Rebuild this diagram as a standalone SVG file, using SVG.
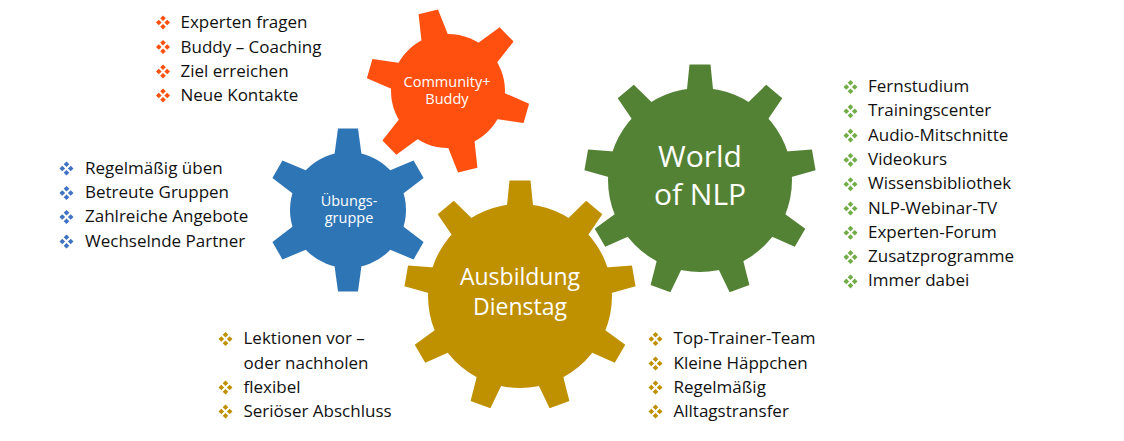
<svg xmlns="http://www.w3.org/2000/svg" width="1124" height="441" viewBox="0 0 1124 441">
<style>
.lbl{font-family:"Open Sans","Liberation Sans",sans-serif;fill:#ffffff;text-anchor:middle}
.li{font-family:"Open Sans","Liberation Sans",sans-serif;font-size:17px;fill:#111111}
</style>
<defs>
<path id="toothL" d="M-13.5,-86 L13.5,-86 L10.5,-115.5 L-10.5,-115.5 Z"/>
<path id="toothS" d="M-14,-52 L14,-52 L10,-81.5 L-10,-81.5 Z"/>
<g id="bul">
<path d="M0,-7 L2.8,-4.2 L0,-1.4 L-2.8,-4.2 Z M0,1.4 L2.8,4.2 L0,7 L-2.8,4.2 Z M-7,0 L-4.2,-2.8 L-1.4,0 L-4.2,2.8 Z M1.4,0 L4.2,-2.8 L7,0 L4.2,2.8 Z"/>
</g>
</defs>
<rect width="1124" height="441" fill="#ffffff"/>

<g id="gear-uebungsgruppe" transform="translate(348,210)" fill="#2E75B6">
<circle r="58"/>
<use href="#toothS"/><use href="#toothS" transform="rotate(60)"/><use href="#toothS" transform="rotate(120)"/><use href="#toothS" transform="rotate(180)"/><use href="#toothS" transform="rotate(240)"/><use href="#toothS" transform="rotate(300)"/>
<text class="lbl" font-size="14.5" x="1" y="-4">Übungs-</text>
<text class="lbl" font-size="14.5" x="1" y="13">gruppe</text>
</g>

<g id="gear-community" transform="translate(448,91)" fill="#FF5010">
<circle r="57"/>
<g transform="rotate(-14)">
<use href="#toothS"/><use href="#toothS" transform="rotate(60)"/><use href="#toothS" transform="rotate(120)"/><use href="#toothS" transform="rotate(180)"/><use href="#toothS" transform="rotate(240)"/><use href="#toothS" transform="rotate(300)"/>
</g>
<text class="lbl" font-size="14.5" x="-1" y="-4">Community+</text>
<text class="lbl" font-size="14.5" x="-1" y="13">Buddy</text>
</g>

<g id="gear-ausbildung" transform="translate(520,296)" fill="#BF9000">
<circle r="92"/>
<use href="#toothL"/><use href="#toothL" transform="rotate(40)"/><use href="#toothL" transform="rotate(80)"/><use href="#toothL" transform="rotate(120)"/><use href="#toothL" transform="rotate(160)"/><use href="#toothL" transform="rotate(200)"/><use href="#toothL" transform="rotate(240)"/><use href="#toothL" transform="rotate(280)"/><use href="#toothL" transform="rotate(320)"/>
<text class="lbl" font-size="23" x="0" y="-11">Ausbildung</text>
<text class="lbl" font-size="23" x="0" y="19">Dienstag</text>
</g>

<g id="gear-world" transform="translate(700,180)" fill="#548235">
<circle r="92"/>
<use href="#toothL"/><use href="#toothL" transform="rotate(40)"/><use href="#toothL" transform="rotate(80)"/><use href="#toothL" transform="rotate(120)"/><use href="#toothL" transform="rotate(160)"/><use href="#toothL" transform="rotate(200)"/><use href="#toothL" transform="rotate(240)"/><use href="#toothL" transform="rotate(280)"/><use href="#toothL" transform="rotate(320)"/>
<text class="lbl" font-size="30" x="0" y="-13">World</text>
<text class="lbl" font-size="30" x="0" y="25">of NLP</text>
</g>

<g id="connectors"></g>

<g id="list-community" fill="#FF5010">
<use href="#bul" x="163" y="22.5"/><use href="#bul" x="163" y="47"/><use href="#bul" x="163" y="71.5"/><use href="#bul" x="163" y="95.5"/>
<text class="li" x="180.5" y="28">Experten fragen</text>
<text class="li" x="180.5" y="52.5">Buddy – Coaching</text>
<text class="li" x="180.5" y="77">Ziel erreichen</text>
<text class="li" x="180.5" y="101">Neue Kontakte</text>
</g>

<g id="list-uebung" fill="#3F72C2">
<use href="#bul" x="66.5" y="168.5"/><use href="#bul" x="66.5" y="193"/><use href="#bul" x="66.5" y="217"/><use href="#bul" x="66.5" y="241.5"/>
<text class="li" x="85" y="173.5">Regelmäßig üben</text>
<text class="li" x="85" y="198">Betreute Gruppen</text>
<text class="li" x="85" y="222">Zahlreiche Angebote</text>
<text class="li" x="85" y="246.5">Wechselnde Partner</text>
</g>

<g id="list-world" fill="#70AD47">
<use href="#bul" x="850.5" y="87"/><use href="#bul" x="850.5" y="111.3"/><use href="#bul" x="850.5" y="135.6"/><use href="#bul" x="850.5" y="159.9"/><use href="#bul" x="850.5" y="184.2"/><use href="#bul" x="850.5" y="208.5"/><use href="#bul" x="850.5" y="232.8"/><use href="#bul" x="850.5" y="257.1"/><use href="#bul" x="850.5" y="281.4"/>
<text class="li" x="868" y="92">Fernstudium</text>
<text class="li" x="868" y="116.3">Trainingscenter</text>
<text class="li" x="868" y="140.6">Audio-Mitschnitte</text>
<text class="li" x="868" y="164.9">Videokurs</text>
<text class="li" x="868" y="189.2">Wissensbibliothek</text>
<text class="li" x="868" y="213.5">NLP-Webinar-TV</text>
<text class="li" x="868" y="237.8">Experten-Forum</text>
<text class="li" x="868" y="262.1">Zusatzprogramme</text>
<text class="li" x="868" y="286.4">Immer dabei</text>
</g>

<g id="list-ausbildung-left" fill="#BF9000">
<use href="#bul" x="225.5" y="339"/><use href="#bul" x="225.5" y="387.5"/><use href="#bul" x="225.5" y="411.5"/>
<text class="li" x="243.5" y="344">Lektionen vor –</text>
<text class="li" x="243.5" y="368.5">oder nachholen</text>
<text class="li" x="243.5" y="392.5">flexibel</text>
<text class="li" x="243.5" y="416.5">Seriöser Abschluss</text>
</g>

<g id="list-ausbildung-right" fill="#BF9000">
<use href="#bul" x="655.5" y="339"/><use href="#bul" x="655.5" y="363.5"/><use href="#bul" x="655.5" y="387.5"/><use href="#bul" x="655.5" y="411.5"/>
<text class="li" x="673.5" y="344">Top-Trainer-Team</text>
<text class="li" x="673.5" y="368.5">Kleine Häppchen</text>
<text class="li" x="673.5" y="392.5">Regelmäßig</text>
<text class="li" x="673.5" y="416.5">Alltagstransfer</text>
</g>
</svg>
